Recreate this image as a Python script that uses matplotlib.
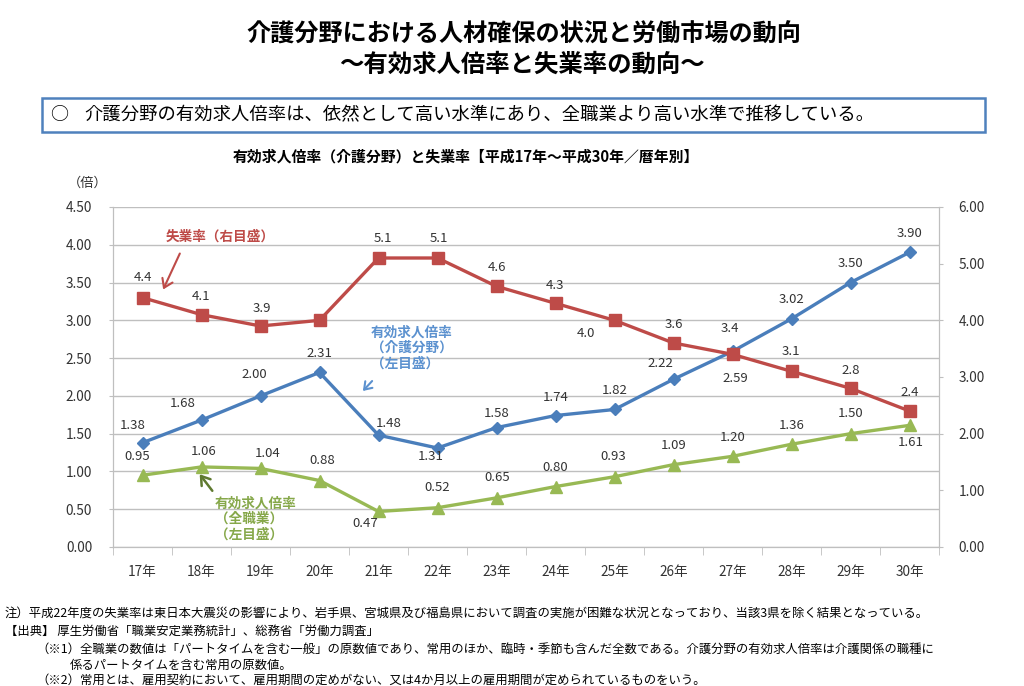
import matplotlib
matplotlib.use('Agg')
import matplotlib.pyplot as plt
from matplotlib.patches import Rectangle, FancyArrowPatch
from matplotlib.ticker import FixedLocator, FormatStrFormatter

plt.rcParams['font.family'] = ['Noto Sans CJK JP', 'DejaVu Sans']

# ---- data ----
years = ['17年', '18年', '19年', '20年', '21年', '22年', '23年',
         '24年', '25年', '26年', '27年', '28年', '29年', '30年']
care_ratio = [1.38, 1.68, 2.00, 2.31, 1.48, 1.31, 1.58, 1.74, 1.82, 2.22, 2.59, 3.02, 3.50, 3.90]
all_ratio = [0.95, 1.06, 1.04, 0.88, 0.47, 0.52, 0.65, 0.80, 0.93, 1.09, 1.20, 1.36, 1.50, 1.61]
unemp = [4.4, 4.1, 3.9, 4.0, 5.1, 5.1, 4.6, 4.3, 4.0, 3.6, 3.4, 3.1, 2.8, 2.4]
unemp_shown = [True, True, True, False, True, True, True, True, True, True, True, True, True, True]

BLUE = '#4A7EBB'; RED = '#BE4B48'; GREEN = '#98B954'
GRID = '#BFBFBF'; TXT = '#333333'

W, H = 1024, 686
def fx(x): return x / W
def fy(y): return 1 - y / H

fig = plt.figure(figsize=(W/100, H/100), dpi=100)
fig.patch.set_facecolor('white')

# ---- headings ----
fig.text(fx(524), fy(35), '介護分野における人材確保の状況と労働市場の動向', ha='center', va='center',
         fontsize=17.4, weight='bold', color='black')
fig.text(fx(522), fy(65), '～有効求人倍率と失業率の動向～', ha='center', va='center',
         fontsize=17.6, weight='bold', color='black')

fig.patches.append(Rectangle((fx(42), fy(132)), fx(985) - fx(42), fy(98) - fy(132),
                             transform=fig.transFigure, facecolor='white', edgecolor='#4F81BD', lw=1.8))
fig.text(fx(50), fy(115), '○', ha='left', va='center', fontsize=13, color='black')
fig.text(fx(84), fy(115), '介護分野の有効求人倍率は、依然として高い水準にあり、全職業より高い水準で推移している。',
         ha='left', va='center', fontsize=13.2, color='black')

fig.text(fx(466), fy(157), '有効求人倍率（介護分野）と失業率【平成17年～平成30年／暦年別】',
         ha='center', va='center', fontsize=10.7, weight='bold', color='black')
fig.text(fx(88), fy(183), '（倍）', ha='center', va='center', fontsize=9.5, color=TXT)

# ---- chart ----
ax = fig.add_axes([fx(113), fy(547), fx(939) - fx(113), fy(207) - fy(547)])
ax2 = ax.twinx()
x = list(range(len(years)))

ax.set_xlim(-0.5, len(years) - 0.5)
ax.set_ylim(0, 4.5)
ax2.set_ylim(0, 6)
ax.set_yticks([i * 0.5 for i in range(10)])
ax.yaxis.set_major_formatter(FormatStrFormatter('%.2f'))
ax2.set_yticks(range(7))
ax2.yaxis.set_major_formatter(FormatStrFormatter('%.2f'))
ax.set_xticks(x)
ax.set_xticklabels(years)
ax.xaxis.set_minor_locator(FixedLocator([i - 0.5 for i in range(len(years) + 1)]))
ax.tick_params(axis='x', which='major', length=0, pad=13, labelsize=9.8, labelcolor=TXT)
ax.tick_params(axis='x', which='minor', length=6, color=GRID)
ax.tick_params(axis='y', length=3, color=GRID, pad=12, labelsize=9.8, labelcolor=TXT)
ax2.tick_params(axis='y', length=3, color=GRID, pad=11, labelsize=9.8, labelcolor=TXT)
ax.grid(axis='y', color=GRID, lw=1)
ax.set_axisbelow(True)
for a in (ax, ax2):
    a.spines['top'].set_visible(False)
    for s in ('left', 'right', 'bottom'):
        a.spines[s].set_color(GRID)
ax.patch.set_visible(False)

ax.plot(x, care_ratio, color=BLUE, lw=2.4, marker='D', ms=6.5, zorder=4)
ax.plot(x, all_ratio, color=GREEN, lw=2.4, marker='^', ms=8, zorder=4)
ax2.plot(x, unemp, color=RED, lw=2.4, marker='s', ms=8, zorder=3)

# label offsets in pixels (dx, dy down)
care_off = [(-10, -17), (-19, -17), (-6, -21), (0, -19), (10, -12), (-7, 8), (0, -14),
            (0, -18), (0, -19), (-13, -16), (3, 27), (0, -19), (0, -19), (0, -19)]
all_off = [(-5, -19), (2, -15), (7, -15), (3, -20), (-13, 12), (0, -20), (1, -20),
           (0, -19), (-1, -20), (0, -19), (0, -19), (0, -19), (0, -20), (1, 17)]
unemp_off = [(0, -20), (0, -18), (1, -18), (0, -18), (4, -20), (1, -20), (1, -19),
             (0, -18), (-29, 13), (0, -19), (-3, -26), (-1, -20), (0, -18), (0, -19)]

for i, v in enumerate(care_ratio):
    ax.annotate(f'{v:.2f}', (i, v), xytext=(care_off[i][0], -care_off[i][1]), textcoords='offset pixels',
                ha='center', va='center', fontsize=9.5, color=TXT, zorder=6)
for i, v in enumerate(all_ratio):
    ax.annotate(f'{v:.2f}', (i, v), xytext=(all_off[i][0], -all_off[i][1]), textcoords='offset pixels',
                ha='center', va='center', fontsize=9.5, color=TXT, zorder=6)
for i, v in enumerate(unemp):
    if unemp_shown[i]:
        ax2.annotate(f'{v:.1f}', (i, v), xytext=(unemp_off[i][0], -unemp_off[i][1]), textcoords='offset pixels',
                     ha='center', va='center', fontsize=9.5, color=TXT)

# ---- series call-outs ----
fig.text(fx(166), fy(237), '失業率（右目盛）', ha='left', va='center', fontsize=9.8, weight='bold', color=RED)
fig.add_artist(FancyArrowPatch((fx(181), fy(251)), (fx(162), fy(292)), transform=fig.transFigure,
                               arrowstyle='->,head_length=6,head_width=4', color=RED, lw=1.5))
fig.text(fx(371), fy(348), '有効求人倍率\n（介護分野）\n（左目盛）', ha='left', va='center', fontsize=9.8,
         weight='bold', color='#5B91CF', linespacing=1.15)
fig.add_artist(FancyArrowPatch((fx(374), fy(379)), (fx(361), fy(393)), transform=fig.transFigure,
                               arrowstyle='->,head_length=5,head_width=3.5', color='#5B91CF', lw=1.5))
fig.text(fx(215), fy(519), '有効求人倍率\n（全職業）\n（左目盛）', ha='left', va='center', fontsize=9.8,
         weight='bold', color='#86A84A', linespacing=1.15)
fig.add_artist(FancyArrowPatch((fx(214), fy(493)), (fx(198), fy(472)), transform=fig.transFigure,
                               arrowstyle='->,head_length=6,head_width=4', color='#5F7A30', lw=1.8))

# ---- notes ----
notes = [
    (5, 613, '注）平成22年度の失業率は東日本大震災の影響により、岩手県、宮城県及び福島県において調査の実施が困難な状況となっており、当該3県を除く結果となっている。'),
    (5, 631, '【出典】 厚生労働省「職業安定業務統計」、総務省「労働力調査」'),
    (36, 649, '（※1）全職業の数値は「パートタイムを含む一般」の原数値であり、常用のほか、臨時・季節も含んだ全数である。介護分野の有効求人倍率は介護関係の職種に'),
    (70, 665, '係るパートタイムを含む常用の原数値。'),
    (36, 680, '（※2）常用とは、雇用契約において、雇用期間の定めがない、又は4か月以上の雇用期間が定められているものをいう。'),
]
for nx, ny, t in notes:
    fig.text(fx(nx), fy(ny), t, ha='left', va='center', fontsize=8.9, color='black')

fig.savefig('out.png', dpi=100)
